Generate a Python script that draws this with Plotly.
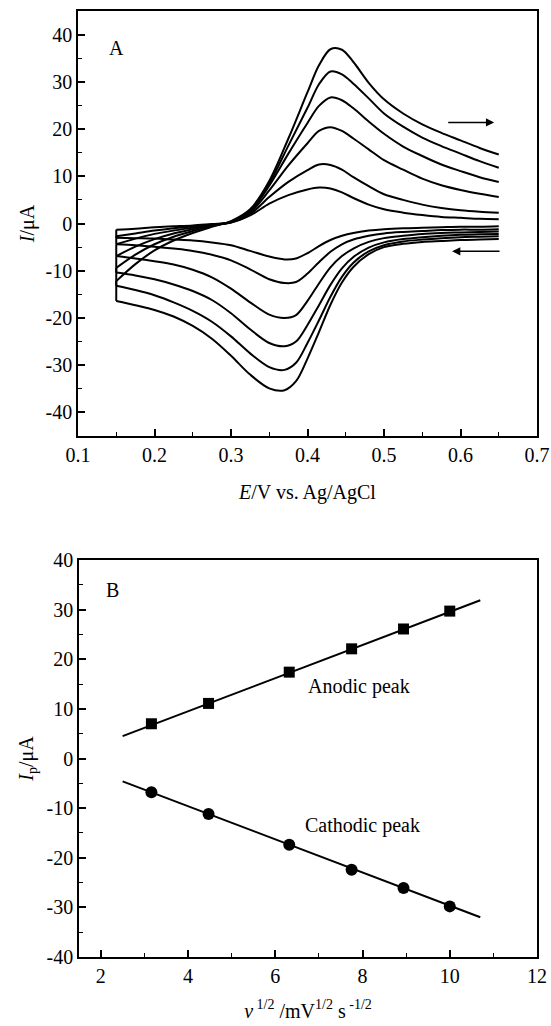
import plotly.graph_objects as go

# ---------------- Panel A: cyclic voltammograms ----------------
E_fwd = [0.15, 0.175, 0.20, 0.225, 0.25, 0.275, 0.30, 0.325, 0.35, 0.375, 0.40, 0.415,
         0.43, 0.445, 0.46, 0.48, 0.50, 0.525, 0.55, 0.575, 0.60, 0.625, 0.65]
E_rev = [0.65, 0.625, 0.60, 0.575, 0.55, 0.525, 0.50, 0.48, 0.46, 0.445, 0.43, 0.415,
         0.40, 0.385, 0.37, 0.35, 0.325, 0.30, 0.275, 0.25, 0.225, 0.20, 0.175, 0.15]

i_fwd_1 = [-1.3, -1.1, -0.8, -0.6, -0.4, -0.1, 0.2, 1.7, 4.2, 6.0, 7.2, 7.6, 7.4, 6.6, 5.4, 4.0, 3.0, 2.3, 1.8, 1.4, 1.2, 1.0, 0.9]
i_fwd_2 = [-2.7, -2.1, -1.5, -1.0, -0.6, -0.2, 0.2, 2.0, 5.6, 8.8, 11.3, 12.5, 12.4, 11.4, 9.8, 7.9, 6.2, 5.0, 4.0, 3.3, 2.8, 2.5, 2.3]
i_fwd_3 = [-4.4, -3.2, -2.2, -1.5, -0.9, -0.3, 0.3, 2.3, 7.0, 12.3, 17.0, 19.6, 20.4, 19.6, 18.0, 15.7, 13.4, 11.4, 9.5, 8.1, 7.1, 6.3, 5.6]
i_fwd_4 = [-6.9, -4.9, -3.3, -2.1, -1.2, -0.4, 0.3, 2.6, 8.0, 14.8, 21.3, 24.9, 26.7, 26.1, 24.4, 21.6, 19.0, 16.3, 14.3, 12.5, 11.1, 9.8, 8.8]
i_fwd_5 = [-9.4, -6.6, -4.4, -2.8, -1.6, -0.5, 0.4, 2.8, 8.5, 16.5, 24.5, 29.5, 32.2, 31.6, 29.6, 26.5, 23.3, 20.5, 18.2, 16.4, 14.8, 13.2, 11.8]
i_fwd_6 = [-12.2, -8.6, -5.7, -3.6, -2.0, -0.7, 0.5, 3.0, 9.0, 18.0, 27.8, 33.5, 36.9, 36.8, 34.2, 29.8, 26.3, 23.3, 21.0, 19.2, 17.6, 16.0, 14.6]

i_rev_1 = [-0.6, -0.7, -0.7, -0.8, -0.9, -1.0, -1.2, -1.5, -2.0, -2.6, -3.5, -4.8, -6.3, -7.4, -7.6, -7.0, -5.8, -4.6, -4.0, -3.6, -3.4, -3.2, -3.1, -3.0]
i_rev_2 = [-1.2, -1.3, -1.3, -1.4, -1.6, -1.8, -2.1, -2.6, -3.4, -4.4, -6.0, -8.2, -10.6, -12.4, -12.6, -11.8, -9.7, -7.8, -6.6, -5.8, -5.3, -4.9, -4.6, -4.4]
i_rev_3 = [-1.7, -1.8, -1.9, -2.0, -2.2, -2.6, -3.1, -3.9, -5.3, -6.9, -9.3, -12.7, -16.4, -19.4, -20.0, -19.3, -16.7, -13.8, -11.4, -9.8, -8.7, -8.0, -7.4, -6.9]
i_rev_4 = [-2.2, -2.3, -2.4, -2.6, -2.9, -3.3, -4.0, -5.1, -7.1, -9.5, -13.0, -17.3, -21.5, -25.0, -26.0, -25.3, -22.4, -19.0, -16.2, -14.3, -12.9, -11.8, -11.0, -10.4]
i_rev_5 = [-2.7, -2.8, -2.9, -3.1, -3.4, -3.8, -4.6, -5.9, -8.3, -11.3, -15.5, -20.5, -25.3, -29.5, -31.0, -30.4, -27.5, -23.9, -20.8, -18.5, -16.7, -15.2, -14.1, -13.2]
i_rev_6 = [-3.3, -3.4, -3.5, -3.7, -3.9, -4.3, -5.0, -6.5, -9.2, -12.5, -17.2, -23.0, -28.6, -33.4, -35.3, -34.9, -32.0, -28.0, -24.4, -21.7, -19.7, -18.3, -17.3, -16.4]

A_xticks = [0.1, 0.2, 0.3, 0.4, 0.5, 0.6, 0.7]
A_xticktext = ["0.1", "0.2", "0.3", "0.4", "0.5", "0.6", "0.7"]
A_yticks = [-40, -30, -20, -10, 0, 10, 20, 30, 40]
A_yticktext = ["-40", "-30", "-20", "-10", "0", "10", "20", "30", "40"]

# ---------------- Panel B: peak current vs sqrt(scan rate) ----------------
nu_sqrt = [3.16, 4.47, 6.32, 7.75, 8.94, 10.0]
ip_anodic = [7.0, 11.1, 17.4, 22.1, 26.1, 29.7]
ip_cathodic = [-6.8, -11.2, -17.4, -22.4, -26.1, -29.8]
fit_x = [2.5, 10.7]
fit_anodic = [4.5, 31.9]
fit_cathodic = [-4.6, -32.0]

B_xticks = [2, 4, 6, 8, 10, 12]
B_xticktext = ["2", "4", "6", "8", "10", "12"]
B_yticks = [-40, -30, -20, -10, 0, 10, 20, 30, 40]
B_yticktext = ["-40", "-30", "-20", "-10", "0", "10", "20", "30", "40"]

FONT = "Liberation Serif"
FS = 20
W, H = 551, 1026

fig = go.Figure()

line_style = dict(color="black", width=2)
fwd_all = [i_fwd_1, i_fwd_2, i_fwd_3, i_fwd_4, i_fwd_5, i_fwd_6]
rev_all = [i_rev_1, i_rev_2, i_rev_3, i_rev_4, i_rev_5, i_rev_6]
for fwd, rev in zip(fwd_all, rev_all):
    fig.add_trace(go.Scatter(x=E_fwd, y=fwd, mode="lines", line=dict(shape="spline", smoothing=0.9, **line_style),
                             xaxis="x", yaxis="y", showlegend=False, hoverinfo="skip"))
    fig.add_trace(go.Scatter(x=E_rev, y=rev, mode="lines", line=dict(shape="spline", smoothing=0.9, **line_style),
                             xaxis="x", yaxis="y", showlegend=False, hoverinfo="skip"))
    fig.add_trace(go.Scatter(x=[E_rev[-1], E_fwd[0]], y=[rev[-1], fwd[0]], mode="lines", line=line_style,
                             xaxis="x", yaxis="y", showlegend=False, hoverinfo="skip"))

# Panel B traces
fig.add_trace(go.Scatter(x=fit_x, y=fit_anodic, mode="lines", line=line_style, xaxis="x2", yaxis="y2",
                         showlegend=False))
fig.add_trace(go.Scatter(x=fit_x, y=fit_cathodic, mode="lines", line=line_style, xaxis="x2", yaxis="y2",
                         showlegend=False))
fig.add_trace(go.Scatter(x=nu_sqrt, y=ip_anodic, mode="markers", name="Anodic peak",
                         marker=dict(symbol="square", size=11, color="black"), xaxis="x2", yaxis="y2",
                         showlegend=False))
fig.add_trace(go.Scatter(x=nu_sqrt, y=ip_cathodic, mode="markers", name="Cathodic peak",
                         marker=dict(symbol="circle", size=12, color="black"), xaxis="x2", yaxis="y2",
                         showlegend=False))

tickfont = dict(family=FONT, size=FS, color="black")
titlefont = dict(family=FONT, size=FS, color="black")


def ax(**kw):
    d = dict(showline=True, linecolor="black", linewidth=1.5, mirror=True,
             ticks="inside", ticklen=7, tickwidth=1.5, tickcolor="black",
             showgrid=False, zeroline=False, tickfont=tickfont, fixedrange=True,
             automargin=False)
    d.update(kw)
    return d


def px2y(p):
    return 1 - p / H


fig.update_layout(
    width=W, height=H,
    margin=dict(l=0, r=0, t=0, b=0),
    paper_bgcolor="white", plot_bgcolor="white",
    xaxis=ax(domain=[78 / W, 537 / W], range=[0.1, 0.7], anchor="y",
             tickmode="array", tickvals=A_xticks, ticktext=A_xticktext,
             minor=dict(ticks="inside", ticklen=4, tickwidth=1.2, tickcolor="black", dtick=0.05, tick0=0.1),
             title=dict(text="<i>E</i>/V vs. Ag/AgCl", font=titlefont, standoff=20)),
    yaxis=ax(domain=[px2y(436), px2y(11)], range=[-45, 45], anchor="x",
             tickmode="array", tickvals=A_yticks, ticktext=A_yticktext,
             minor=dict(ticks="inside", ticklen=4, tickwidth=1.2, tickcolor="black", dtick=5, tick0=0),
             title=dict(text="<i>I</i>/μA", font=titlefont, standoff=6)),
    xaxis2=ax(domain=[79 / W, 537 / W], range=[1.5, 12], anchor="y2",
              tickmode="array", tickvals=B_xticks, ticktext=B_xticktext,
              minor=dict(ticks="inside", ticklen=4, tickwidth=1.2, tickcolor="black", dtick=1, tick0=0),
              title=dict(text="<i>ν</i><sup> 1/2</sup> /mV<sup>1/2</sup> s<sup> -1/2</sup>", font=titlefont, standoff=18)),
    yaxis2=ax(domain=[px2y(957), px2y(560)], range=[-40, 40], anchor="x2",
              tickmode="array", tickvals=B_yticks, ticktext=B_yticktext,
              minor=dict(ticks="inside", ticklen=4, tickwidth=1.2, tickcolor="black", dtick=5, tick0=0),
              title=dict(text="<i>I</i><sub>p</sub>/μA", font=titlefont, standoff=8)),
    annotations=[
        dict(x=0.150, y=37.2, xref="x", yref="y", text="A", showarrow=False, font=titlefont),
        dict(x=0.644, y=21.4, ax=0.582, ay=21.4, xref="x", yref="y", axref="x", ayref="y",
             text="", showarrow=True, arrowhead=2, arrowsize=1.1, arrowwidth=1.5, arrowcolor="black"),
        dict(x=0.589, y=-5.9, ax=0.653, ay=-5.9, xref="x", yref="y", axref="x", ayref="y",
             text="", showarrow=True, arrowhead=2, arrowsize=1.1, arrowwidth=1.5, arrowcolor="black"),
        dict(x=2.27, y=33.9, xref="x2", yref="y2", text="B", showarrow=False, font=titlefont),
        dict(x=7.93, y=14.6, xref="x2", yref="y2", text="Anodic peak", showarrow=False, font=titlefont),
        dict(x=7.99, y=-13.6, xref="x2", yref="y2", text="Cathodic peak", showarrow=False, font=titlefont),
    ],
)

fig.write_html("out.html", config={"displayModeBar": False},
               post_script="document.body.style.margin='0';document.body.style.overflow='hidden';")
